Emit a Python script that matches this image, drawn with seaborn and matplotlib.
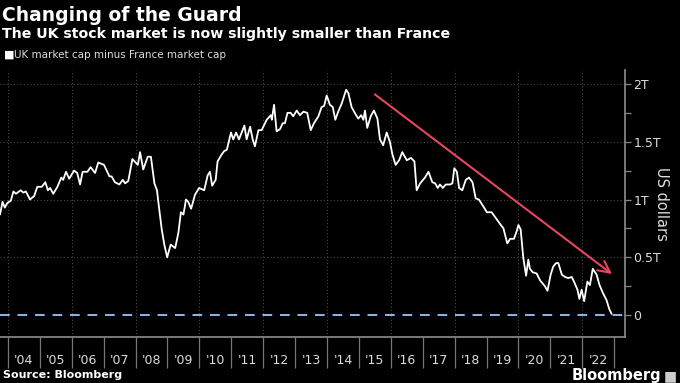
import matplotlib
matplotlib.use("Agg")
import matplotlib.pyplot as plt
import seaborn as sns
import pandas as pd

# UK market cap minus France market cap (trillion US dollars)
dates = [
    2003.75, 2003.83, 2003.90, 2003.98, 2004.09, 2004.17, 2004.25, 2004.40, 2004.48, 2004.56,
    2004.69, 2004.82, 2004.92, 2005.06, 2005.17, 2005.25, 2005.32, 2005.42, 2005.55, 2005.67,
    2005.73, 2005.82, 2005.92, 2006.07, 2006.17, 2006.26, 2006.34, 2006.49, 2006.59, 2006.73,
    2006.83, 2007.01, 2007.18, 2007.25, 2007.35, 2007.49, 2007.60, 2007.67, 2007.77, 2007.90,
    2008.07, 2008.14, 2008.24, 2008.38, 2008.48, 2008.59, 2008.67, 2008.73, 2008.82, 2008.90,
    2008.99, 2009.10, 2009.24, 2009.34, 2009.42, 2009.50, 2009.58, 2009.65, 2009.74, 2009.86,
    2009.99, 2010.15, 2010.26, 2010.33, 2010.40, 2010.51, 2010.57, 2010.70, 2010.78, 2010.86,
    2010.99, 2011.06, 2011.15, 2011.24, 2011.41, 2011.48, 2011.59, 2011.67, 2011.74, 2011.85,
    2011.95, 2012.11, 2012.24, 2012.27, 2012.34, 2012.42, 2012.53, 2012.61, 2012.68, 2012.76,
    2012.86, 2012.94, 2013.05, 2013.15, 2013.26, 2013.38, 2013.49, 2013.59, 2013.73, 2013.83,
    2013.91, 2013.99, 2014.09, 2014.18, 2014.26, 2014.35, 2014.46, 2014.60, 2014.67, 2014.77,
    2014.91, 2014.98, 2015.07, 2015.14, 2015.19, 2015.26, 2015.37, 2015.47, 2015.58, 2015.66,
    2015.76, 2015.87, 2015.97, 2016.05, 2016.15, 2016.26, 2016.36, 2016.50, 2016.63, 2016.74,
    2016.81, 2016.92, 2017.07, 2017.18, 2017.30, 2017.39, 2017.47, 2017.54, 2017.63, 2017.72,
    2017.86, 2017.93, 2017.99, 2018.07, 2018.14, 2018.24, 2018.35, 2018.45, 2018.56, 2018.66,
    2018.76, 2018.90, 2019.01, 2019.16, 2019.29, 2019.42, 2019.53, 2019.65, 2019.74, 2019.86,
    2019.95, 2020.00, 2020.07, 2020.15, 2020.24, 2020.31, 2020.36, 2020.45, 2020.57, 2020.68,
    2020.83, 2020.91, 2021.01, 2021.09, 2021.18, 2021.25, 2021.36, 2021.46, 2021.56, 2021.67,
    2021.74, 2021.85, 2021.91, 2021.98, 2022.06, 2022.16, 2022.24, 2022.33, 2022.45, 2022.54,
    2022.65, 2022.76, 2022.85, 2022.92,
]
uk_minus_fr = [
    0.87, 0.98, 0.93, 0.97, 0.99, 1.07, 1.05, 1.08, 1.06, 1.07,
    1.00, 1.03, 1.11, 1.11, 1.15, 1.08, 1.10, 1.05, 1.11, 1.19,
    1.17, 1.24, 1.18, 1.25, 1.23, 1.13, 1.24, 1.24, 1.28, 1.23,
    1.32, 1.30, 1.20, 1.20, 1.15, 1.13, 1.17, 1.14, 1.16, 1.35,
    1.30, 1.41, 1.26, 1.37, 1.37, 1.14, 1.08, 0.94, 0.74, 0.61,
    0.50, 0.61, 0.58, 0.71, 0.89, 0.87, 1.00, 0.98, 0.92, 1.04,
    1.10, 1.08, 1.21, 1.24, 1.12, 1.17, 1.33, 1.39, 1.42, 1.43,
    1.58, 1.52, 1.58, 1.52, 1.64, 1.52, 1.63, 1.52, 1.46, 1.60,
    1.60, 1.69, 1.73, 1.69, 1.82, 1.59, 1.61, 1.66, 1.66, 1.75,
    1.75, 1.72, 1.77, 1.73, 1.76, 1.75, 1.60, 1.66, 1.72, 1.80,
    1.81, 1.90, 1.82, 1.80, 1.69, 1.76, 1.83, 1.95, 1.92, 1.80,
    1.73, 1.70, 1.73, 1.69, 1.77, 1.62, 1.72, 1.77, 1.70, 1.52,
    1.47, 1.58, 1.50, 1.39, 1.30, 1.34, 1.41, 1.34, 1.36, 1.33,
    1.08, 1.14, 1.19, 1.24, 1.15, 1.14, 1.10, 1.13, 1.10, 1.13,
    1.13, 1.14, 1.27, 1.24, 1.10, 1.08, 1.17, 1.19, 1.15, 1.01,
    1.00, 0.94, 0.89, 0.89, 0.84, 0.79, 0.75, 0.62, 0.66, 0.66,
    0.73, 0.78, 0.74, 0.50, 0.34, 0.48, 0.40, 0.37, 0.36, 0.30,
    0.25, 0.21, 0.35, 0.42, 0.45, 0.45, 0.35, 0.33, 0.32, 0.33,
    0.29, 0.22, 0.14, 0.22, 0.12, 0.29, 0.26, 0.40, 0.35, 0.26,
    0.19, 0.13, 0.05, 0.01,
]

year_edges = list(range(2004, 2024))
year_labels = ["'%02d" % (y % 100) for y in range(2004, 2023)]
grid_years = list(range(2004, 2023, 2))
y_ticks = [0, 0.5, 1, 1.5, 2]
y_tick_labels = ["0", "0.5T", "1T", "1.5T", "2T"]
y_minor = [0.25, 0.75, 1.25, 1.75]

# trend arrow drawn by Bloomberg
arrow_start = (2015.5, 1.91)
arrow_end = (2022.93, 0.355)

df = pd.DataFrame({"date": dates, "value": uk_minus_fr})

sns.set_theme(style="dark")
plt.rcParams["font.family"] = ["DejaVu Sans"]
plt.rcParams["figure.facecolor"] = "black"

fig = plt.figure(figsize=(6.8, 3.83), dpi=100)
ax = fig.add_axes([0, 0.12, 625 / 680, 0.697])
ax.set_facecolor("black")

# gridlines
ax.vlines(grid_years, -0.19, 2.12, colors="#4a4a4a", linestyles=(0, (1, 2)), lw=0.8, zorder=1)
for v in y_ticks[1:]:
    ax.axhline(v, color="#4a4a4a", ls=(0, (1, 2)), lw=0.8, zorder=1)
ax.axhline(0, color="#8cb8e8", ls=(0, (5, 4)), lw=1.4, zorder=2)

sns.lineplot(data=df, x="date", y="value", ax=ax, color="white", lw=1.3, zorder=3)

ax.annotate("", xy=arrow_end, xytext=arrow_start,
            arrowprops=dict(arrowstyle="->,head_length=0.7,head_width=0.35",
                            color="#e8455f", lw=1.5, shrinkA=0, shrinkB=0), zorder=4)

ax.set_xlim(2003.75, 2023.34)
ax.set_ylim(-0.19, 2.12)
ax.set_xlabel("")

# x axis: year separators as major ticks, labels in the middle as minor ticks
ax.set_xticks(year_edges)
ax.set_xticklabels([])
ax.set_xticks([y + 0.5 for y in range(2004, 2023)], minor=True)
ax.set_xticklabels(year_labels, minor=True)
ax.tick_params(axis="x", which="major", direction="out", length=22, width=0.9, color="#777777", bottom=True)
ax.tick_params(axis="x", which="minor", length=0, pad=12, labelsize=9, labelcolor="#dddddd", bottom=True)

# y axis on the right
ax.yaxis.tick_right()
ax.yaxis.set_label_position("right")
ax.set_yticks(y_ticks)
ax.set_yticklabels(y_tick_labels)
ax.set_yticks(y_minor, minor=True)
ax.tick_params(axis="y", which="both", direction="out", length=4, width=0.9, color="#888888",
               labelsize=9, labelcolor="#dddddd", right=True, left=False, pad=2)
ax.set_ylabel("US dollars", color="#dddddd", fontsize=10.5, rotation=-90, labelpad=6)

for side in ["top", "left"]:
    ax.spines[side].set_visible(False)
ax.spines["right"].set_color("#888888")
ax.spines["bottom"].set_color("#888888")
ax.grid(False)

# titles, legend, footer
fig.text(0.003, 0.945, "Changing of the Guard", color="white", fontsize=13.5, fontweight="bold", va="baseline")
fig.text(0.003, 0.902, "The UK stock market is now slightly smaller than France", color="white",
         fontsize=10.2, fontweight="bold", va="baseline")
fig.text(0.006, 0.849, "\u25A0", color="white", fontsize=8, va="baseline")
fig.text(0.021, 0.849, "UK market cap minus France market cap", color="#dddddd", fontsize=7.5, va="baseline")
fig.text(0.004, 0.012, "Source: Bloomberg", color="white", fontsize=8, fontweight="bold", va="baseline")
fig.text(0.972, 0.008, "Bloomberg", color="white", fontsize=10.5, fontweight="bold", va="baseline", ha="right")
fig.text(0.996, 0.008, "\u25A0", color="#cccccc", fontsize=10, va="baseline", ha="right")

fig.savefig("out.png", dpi=100, facecolor="black")
